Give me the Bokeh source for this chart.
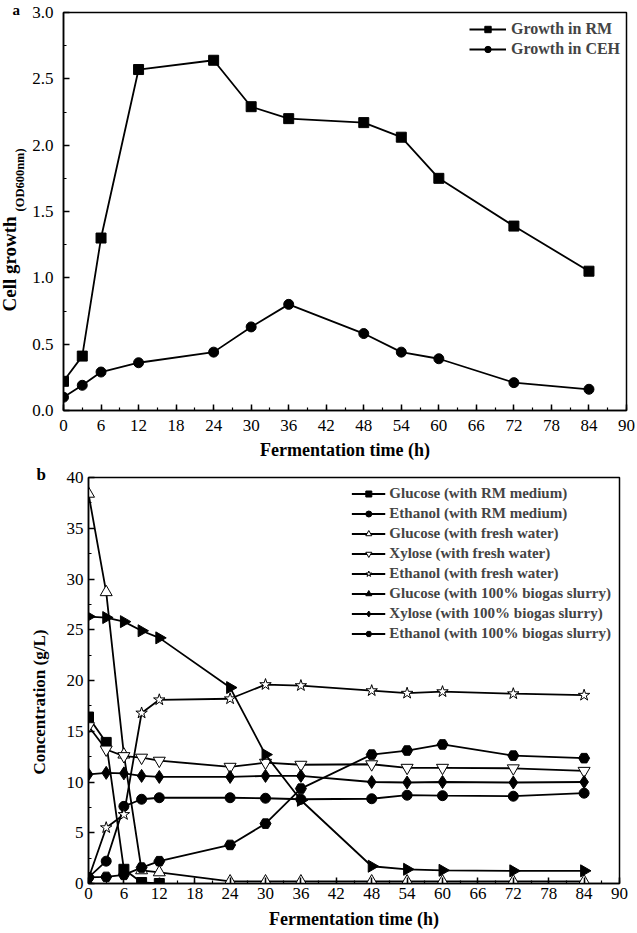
import math
from bokeh.plotting import figure
from bokeh.models import (Legend, LegendItem, Title, SingleIntervalTicker,
                          PrintfTickFormatter, Range1d)
from bokeh.embed import file_html
from bokeh.resources import INLINE

# ---------------- data: panel a ----------------
time_a = [0, 3, 6, 12, 24, 30, 36, 48, 54, 60, 72, 84]
growth_rm = [0.22, 0.41, 1.30, 2.57, 2.64, 2.29, 2.20, 2.17, 2.06, 1.75, 1.39, 1.05]
growth_ceh = [0.10, 0.19, 0.29, 0.36, 0.44, 0.63, 0.80, 0.58, 0.44, 0.39, 0.21, 0.16]

# ---------------- data: panel b ----------------
time_b = [0, 3, 6, 9, 12, 24, 30, 36, 48, 54, 60, 72, 84]
time_b_short = [0, 3, 6, 9, 12]
glucose_rm = [16.4, 13.9, 1.4, 0.1, 0.0]
ethanol_rm = [0.6, 2.2, 7.6, 8.3, 8.45, 8.45, 8.4, 8.3, 8.35, 8.7, 8.65, 8.6, 8.9]
glucose_fresh = [38.4, 28.7, 12.7, 1.3, 1.1, 0.2, 0.2, 0.2, 0.2, 0.2, 0.2, 0.2, 0.2]
xylose_fresh = [15.5, 13.2, 12.55, 12.4, 12.1, 11.5, 11.9, 11.7, 11.75, 11.4, 11.4, 11.35, 11.1]
ethanol_fresh = [0.5, 5.5, 6.8, 16.8, 18.1, 18.2, 19.6, 19.5, 19.0, 18.75, 18.9, 18.7, 18.55]
glucose_bio = [26.3, 26.2, 25.8, 24.9, 24.2, 19.3, 12.7, 8.2, 1.7, 1.4, 1.3, 1.25, 1.25]
xylose_bio = [10.75, 10.9, 10.85, 10.6, 10.5, 10.5, 10.6, 10.6, 10.0, 9.95, 10.0, 9.95, 10.0]
ethanol_bio = [0.6, 0.65, 0.85, 1.57, 2.2, 3.8, 5.9, 9.35, 12.7, 13.1, 13.7, 12.6, 12.35]

x_label = "Fermentation time (h)"
FONT = "Liberation Serif"


def mk_title(text, size, align, valign, offset, standoff):
    kw = dict(text=text, align=align, vertical_align=valign, offset=offset,
              text_font=FONT, text_font_style="bold", text_font_size=size,
              text_color="black")
    try:
        return Title(standoff=standoff, **kw)
    except Exception:
        return Title(standoff=0, **kw)


def style_axes(p, y_interval, y_fmt):
    p.xaxis.ticker = SingleIntervalTicker(interval=6, num_minor_ticks=2)
    p.yaxis.ticker = SingleIntervalTicker(interval=y_interval, num_minor_ticks=2)
    if y_fmt:
        p.yaxis.formatter = PrintfTickFormatter(format=y_fmt)
    for ax in (p.xaxis, p.yaxis):
        ax.major_tick_in = 6
        ax.major_tick_out = 0
        ax.minor_tick_in = 3
        ax.minor_tick_out = 0
        ax.axis_line_width = 1.5
        ax.major_tick_line_width = 1.5
        ax.minor_tick_line_width = 1.2
        ax.axis_line_color = "black"
        ax.major_tick_line_color = "black"
        ax.minor_tick_line_color = "black"
        ax.major_label_text_font = FONT
        ax.major_label_text_font_size = "17px"
        ax.major_label_text_color = "black"
    p.xaxis.axis_label = x_label
    p.xaxis.axis_label_text_font = FONT
    p.xaxis.axis_label_text_font_style = "bold"
    p.xaxis.axis_label_text_font_size = "18px"
    p.xaxis.axis_label_text_color = "black"
    p.xgrid.visible = False
    p.ygrid.visible = False
    p.outline_line_color = "black"
    p.outline_line_width = 1.5
    p.outline_line_alpha = 1.0


# ---------------- panel a ----------------
pa = figure(width=637, height=465, x_range=Range1d(0, 90), y_range=Range1d(0, 3),
            output_backend="svg", toolbar_location=None,
            min_border_left=63, min_border_right=11, min_border_top=12, min_border_bottom=55)
style_axes(pa, 0.5, "%.1f")
pa.yaxis.major_label_standoff = 10
pa.xaxis.major_label_standoff = 9
pa.xaxis.axis_label_standoff = 6

la1 = pa.line(time_a, growth_rm, line_color="black", line_width=1.8)
sa1 = pa.scatter(time_a, growth_rm, marker="square", size=10, color="black")
la2 = pa.line(time_a, growth_ceh, line_color="black", line_width=1.8)
sa2 = pa.scatter(time_a, growth_ceh, marker="circle", size=10, color="black")

leg_a = Legend(items=[LegendItem(label="Growth in RM", renderers=[la1, sa1]),
                      LegendItem(label="Growth in CEH", renderers=[la2, sa2])],
               location=(404, 350), border_line_alpha=0, background_fill_alpha=0,
               label_text_font=FONT, label_text_font_style="bold",
               label_text_font_size="16px", glyph_width=37, glyph_height=16,
               label_height=16, spacing=2, padding=2, margin=0, label_standoff=5)
pa.add_layout(leg_a)

pa.title = mk_title("a", "15px", "left", "middle", -51, -11.6)
# spacer between tick labels and the rotated axis title
pa.add_layout(mk_title(" ", "1px", "left", "bottom", 0, 5), "left")
pa.add_layout(mk_title("(OD600nm)", "12.5px", "left", "bottom", 199, -10.4), "left")
pa.add_layout(mk_title("Cell growth", "19px", "left", "bottom", 99, -8), "left")

# ---------------- panel b ----------------
pb = figure(width=637, height=468, x_range=Range1d(0, 90), y_range=Range1d(0, 40),
            output_backend="svg", toolbar_location=None,
            min_border_left=88, min_border_right=18, min_border_top=12, min_border_bottom=50)
style_axes(pb, 5, None)
pb.yaxis.major_label_standoff = 5
pb.xaxis.major_label_standoff = 4
pb.xaxis.axis_label_standoff = 7

LW = 1.8
items = []


def series(xs, ys, label, marker, size, fill, angle=0.0):
    l = pb.line(xs, ys, line_color="black", line_width=LW)
    s = pb.scatter(xs, ys, marker=marker, size=size, line_color="black",
                   fill_color=fill, line_width=1.0, angle=angle)
    items.append(LegendItem(label=label, renderers=[l, s]))


series(time_b_short, glucose_rm, "Glucose (with RM medium)", "square", 10, "black")
series(time_b, ethanol_rm, "Ethanol (with RM medium)", "circle", 10, "black")
series(time_b, glucose_fresh, "Glucose (with fresh water)", "triangle", 12, "white")
series(time_b, xylose_fresh, "Xylose (with fresh water)", "inverted_triangle", 12, "white")
series(time_b, ethanol_fresh, "Ethanol (with fresh water)", "star", 12, "white")
series(time_b, glucose_bio, "Glucose (with 100% biogas slurry)", "triangle", 12, "black",
       angle=-math.pi / 2)
series(time_b, xylose_bio, "Xylose (with 100% biogas slurry)", "diamond", 13, "black")
series(time_b, ethanol_bio, "Ethanol (with 100% biogas slurry)", "hex", 11, "black")

leg_b = Legend(items=items, location="top_right", border_line_alpha=0,
               background_fill_alpha=0, label_text_font=FONT,
               label_text_font_style="bold", label_text_font_size="15px",
               glyph_width=34, glyph_height=15, label_height=15, spacing=3,
               padding=2, margin=6, label_standoff=4)
pb.add_layout(leg_b)

pb.title = mk_title("b", "17px", "left", "top", -52, -16)
pb.add_layout(mk_title("Concentration (g/L)", "17px", "left", "top", 109, 24.5), "left")

open("out.html", "w").write(file_html([pa, pb], INLINE))
